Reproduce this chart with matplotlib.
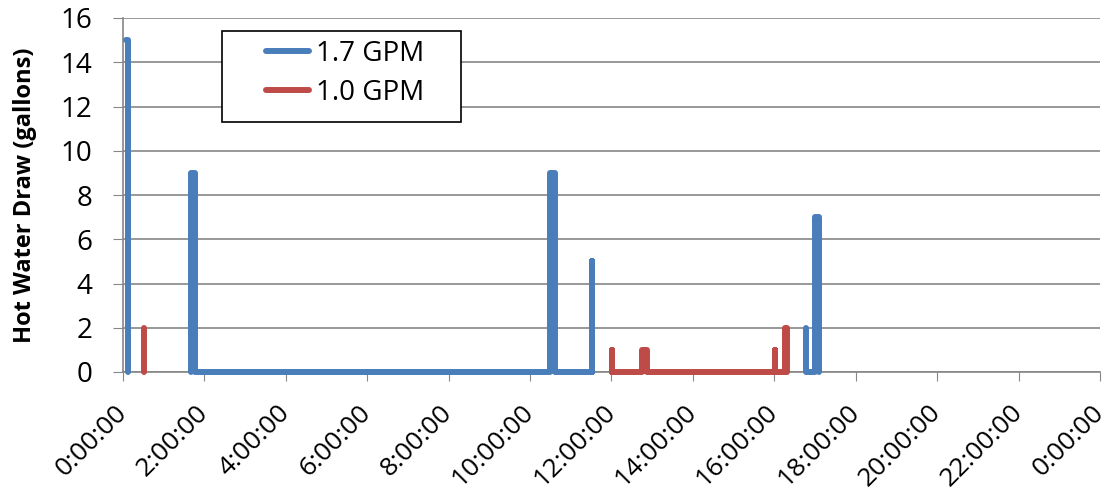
import numpy as np
import matplotlib
matplotlib.use("Agg")
import matplotlib.pyplot as plt
from matplotlib.patches import Rectangle
from matplotlib.legend_handler import HandlerLine2D

# Hot water draws over one day (hours since midnight, gallons); NaN breaks the line
hours_17 = [0.07, 0.13, 0.13, np.nan,
            1.66, 1.66, 1.77, 1.77, 10.49, 10.49, 10.61, 10.61, 11.53, 11.53, 11.53, np.nan,
            16.78, 16.78, 17.0, 17.0, 17.1, 17.1]
draw_17 = [15, 15, 0, np.nan,
           0, 9, 9, 0, 0, 9, 9, 0, 0, 5, 0, np.nan,
           2, 0, 0, 7, 7, 0]

hours_10 = [0.52, 0.52, np.nan,
            12.02, 12.02, 12.02, 12.75, 12.75, 12.87, 12.87, 16.02, 16.02, 16.02,
            16.25, 16.25, 16.32, 16.32]
draw_10 = [0, 2, np.nan,
           0, 1, 0, 0, 1, 1, 0, 0, 1, 0,
           0, 2, 2, 0]

tick_hours = list(range(0, 25, 2))
tick_labels = ["0:00:00", "2:00:00", "4:00:00", "6:00:00", "8:00:00", "10:00:00",
               "12:00:00", "14:00:00", "16:00:00", "18:00:00", "20:00:00",
               "22:00:00", "0:00:00"]
y_ticks = list(range(0, 17, 2))

plt.rcParams["font.family"] = ["Open Sans", "DejaVu Sans"]

W, H = 1105, 492
fig = plt.figure(figsize=(W / 100, H / 100), dpi=100)
ax = fig.add_axes([123 / W, 1 - 372 / H, 977 / W, 354 / H])

blue = "#4A7EBB"
red = "#BE4B48"
ax.plot(hours_17, draw_17, color=blue, lw=4.3, solid_capstyle="round",
        solid_joinstyle="round", label="1.7 GPM", zorder=3, clip_on=False)
ax.plot(hours_10, draw_10, color=red, lw=4.3, solid_capstyle="round",
        solid_joinstyle="round", label="1.0 GPM", zorder=3, clip_on=False)

ax.set_xlim(0, 24)
ax.set_ylim(0, 16)
ax.set_xticks(tick_hours)
ax.set_xticklabels(tick_labels, rotation=45, ha="right", va="center",
                   rotation_mode="anchor", fontsize=19)
ax.set_yticks(y_ticks)
ax.tick_params(axis="y", labelsize=20, length=7, color="#868686", pad=15)
ax.tick_params(axis="x", length=6.5, color="#868686", pad=20)

ax.yaxis.grid(True, color="#868686", lw=1.2)
ax.set_axisbelow(True)
for side in ("top", "right"):
    ax.spines[side].set_visible(False)
for side in ("left", "bottom"):
    ax.spines[side].set_color("#868686")
    ax.spines[side].set_linewidth(1.2)

ax.set_ylabel("Hot Water Draw (gallons)", fontsize=17, fontweight="bold")
ax.yaxis.set_label_coords((37 - 123) / 977, 0.5)


class ShortLine(HandlerLine2D):
    """Legend line handler that leaves a gap before the sample line."""

    def __init__(self, lead, **kw):
        super().__init__(**kw)
        self.lead = lead

    def create_artists(self, legend, orig_handle, xdescent, ydescent, width,
                       height, fontsize, trans):
        arts = super().create_artists(legend, orig_handle, xdescent, ydescent,
                                      width, height, fontsize, trans)
        x0 = -xdescent + self.lead
        x1 = -xdescent + width
        y = (height - ydescent) / 2
        arts[0].set_data([x0, x1], [y, y])
        arts[0].set_solid_capstyle("round")
        return arts


handles, labels = ax.get_legend_handles_labels()
leg = ax.legend(handles, labels, loc="upper left",
                bbox_to_anchor=((228 - 123) / 977, (372 - 40) / 354),
                fontsize=20, frameon=False, handlelength=2.9, borderpad=0,
                labelspacing=0.4, handletextpad=0.25, borderaxespad=0,
                handler_map={h: ShortLine(lead=27) for h in handles})

# Legend frame
ax.add_patch(Rectangle(((222 - 123) / 977, (372 - 122) / 354),
                       (461 - 222) / 977, (122 - 31) / 354,
                       transform=ax.transAxes, fill=True, facecolor="white",
                       edgecolor="black", lw=1.2, zorder=4, clip_on=False))
leg.set_zorder(5)

fig.savefig("out.png", dpi=100)
